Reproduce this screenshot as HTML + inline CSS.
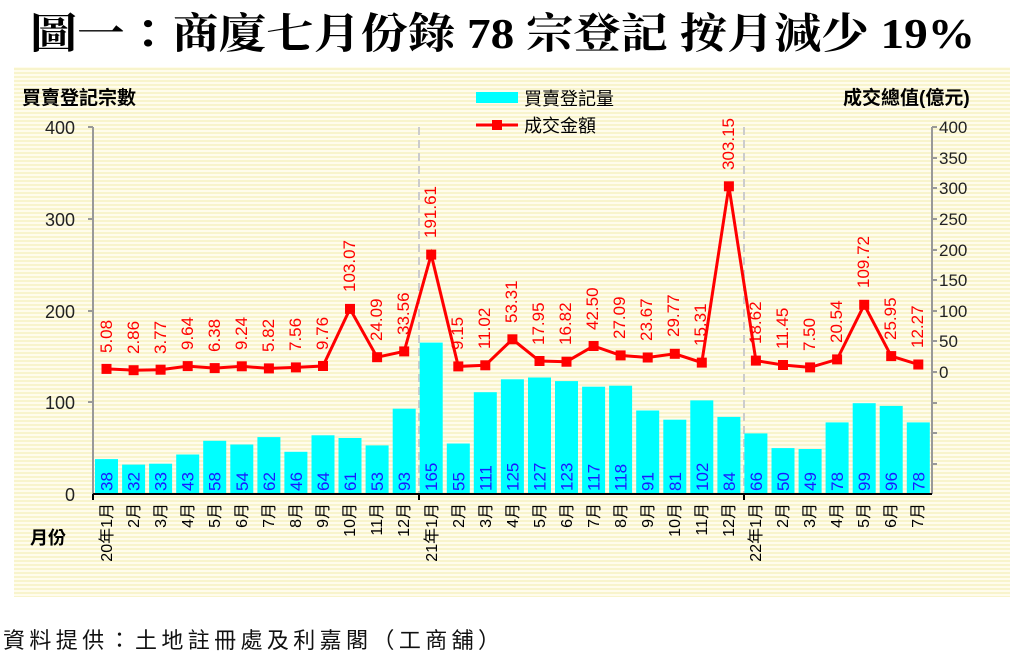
<!DOCTYPE html>
<html><head><meta charset="utf-8"><style>
body{margin:0;background:#fff;width:1024px;height:657px;overflow:hidden}
svg{display:block}
.t{font-family:"Liberation Sans","Noto Sans CJK TC",sans-serif}
.v{font-family:"Liberation Sans",sans-serif;font-size:17px;fill:#f00}
.b{font-family:"Liberation Sans",sans-serif;font-size:17px;fill:#1a1aff}
.x{font-family:"Liberation Sans","Noto Sans CJK TC",sans-serif;font-size:16px;fill:#000}
</style></head><body>
<svg width="1024" height="657" viewBox="0 0 1024 657">
<defs><pattern id="st" width="4" height="4" patternUnits="userSpaceOnUse"><rect width="4" height="4" fill="#fffcec"/><rect width="4" height="2" fill="#f8f4cc"/></pattern></defs>
<text x="30" y="48" font-family="Liberation Serif,'Noto Serif CJK TC','Noto Serif CJK SC',serif" font-weight="bold" font-size="42" textLength="945" lengthAdjust="spacingAndGlyphs">圖一：商廈七月份錄 78 宗登記  按月減少 19%</text>
<rect x="14" y="67" width="996" height="530" fill="url(#st)"/>
<text class="t" x="22" y="104" font-size="19" font-weight="bold">買賣登記宗數</text>
<text class="t" x="843" y="104" font-size="19" font-weight="bold">成交總值(億元)</text>
<rect x="476" y="92" width="42" height="11" fill="#00ffff"/>
<text class="t" x="524" y="105" font-size="18">買賣登記量</text>
<line x1="476" y1="125" x2="518" y2="125" stroke="#f00" stroke-width="3"/><rect x="492" y="120" width="10" height="10" fill="#f00"/>
<text class="t" x="524" y="132" font-size="18">成交金額</text>
<g stroke="#999" stroke-width="2"><line x1="93" y1="127" x2="93" y2="494"/><line x1="932" y1="127" x2="932" y2="494"/>
<line x1="88" y1="127" x2="93" y2="127"/><line x1="88" y1="219" x2="93" y2="219"/><line x1="88" y1="311" x2="93" y2="311"/><line x1="88" y1="402" x2="93" y2="402"/>
<line x1="932" y1="127" x2="937" y2="127"/><line x1="932" y1="158" x2="937" y2="158"/><line x1="932" y1="188" x2="937" y2="188"/><line x1="932" y1="219" x2="937" y2="219"/><line x1="932" y1="250" x2="937" y2="250"/><line x1="932" y1="280" x2="937" y2="280"/><line x1="932" y1="311" x2="937" y2="311"/><line x1="932" y1="341" x2="937" y2="341"/><line x1="932" y1="372" x2="937" y2="372"/><line x1="932" y1="403" x2="937" y2="403"/><line x1="932" y1="433" x2="937" y2="433"/><line x1="932" y1="464" x2="937" y2="464"/></g>
<g stroke="#ccc" stroke-width="2" stroke-dasharray="8,5"><line x1="419" y1="127" x2="419" y2="494"/><line x1="744" y1="127" x2="744" y2="494"/></g>
<g class="t" font-size="18" fill="#222" text-anchor="end"><text x="75" y="134">400</text><text x="75" y="226">300</text><text x="75" y="318">200</text><text x="75" y="409">100</text><text x="75" y="501">0</text></g>
<g class="t" font-size="17" fill="#222"><text x="939" y="133">400</text><text x="939" y="164">350</text><text x="939" y="194">300</text><text x="939" y="225">250</text><text x="939" y="256">200</text><text x="939" y="286">150</text><text x="939" y="317">100</text><text x="939" y="347">50</text><text x="939" y="378">0</text></g>
<g fill="#00ffff">
<rect x="95" y="459.1" width="23" height="34.9"/><rect x="122.1" y="464.6" width="23" height="29.4"/><rect x="149.1" y="463.7" width="23" height="30.3"/><rect x="176.2" y="454.5" width="23" height="39.5"/><rect x="203.2" y="440.8" width="23" height="53.2"/><rect x="230.3" y="444.5" width="23" height="49.5"/><rect x="257.4" y="437.1" width="23" height="56.9"/><rect x="284.4" y="451.8" width="23" height="42.2"/><rect x="311.5" y="435.3" width="23" height="58.7"/><rect x="338.5" y="438" width="23" height="56"/><rect x="365.6" y="445.4" width="23" height="48.6"/><rect x="392.7" y="408.7" width="23" height="85.3"/><rect x="419.7" y="342.6" width="23" height="151.4"/><rect x="446.8" y="443.5" width="23" height="50.5"/><rect x="473.8" y="392.2" width="23" height="101.8"/><rect x="500.9" y="379.3" width="23" height="114.7"/><rect x="528" y="377.5" width="23" height="116.5"/><rect x="555" y="381.1" width="23" height="112.9"/><rect x="582.1" y="386.7" width="23" height="107.3"/><rect x="609.1" y="385.7" width="23" height="108.3"/><rect x="636.2" y="410.5" width="23" height="83.5"/><rect x="663.3" y="419.7" width="23" height="74.3"/><rect x="690.3" y="400.4" width="23" height="93.6"/><rect x="717.4" y="416.9" width="23" height="77.1"/><rect x="744.4" y="433.4" width="23" height="60.6"/><rect x="771.5" y="448.1" width="23" height="45.9"/><rect x="798.6" y="449" width="23" height="45"/><rect x="825.6" y="422.4" width="23" height="71.6"/><rect x="852.7" y="403.2" width="23" height="90.8"/><rect x="879.7" y="405.9" width="23" height="88.1"/><rect x="906.8" y="422.4" width="23" height="71.6"/>
</g>
<line x1="93" y1="494" x2="932" y2="494" stroke="#000" stroke-width="2"/>
<g stroke="#000" stroke-width="2"><line x1="93" y1="494" x2="93" y2="500"/><line x1="419" y1="494" x2="419" y2="500"/><line x1="744" y1="494" x2="744" y2="500"/></g>
<g class="b">
<text transform="translate(112.5,491) rotate(-90)">38</text><text transform="translate(139.6,491) rotate(-90)">32</text><text transform="translate(166.6,491) rotate(-90)">33</text><text transform="translate(193.7,491) rotate(-90)">43</text><text transform="translate(220.7,491) rotate(-90)">58</text><text transform="translate(247.8,491) rotate(-90)">54</text><text transform="translate(274.9,491) rotate(-90)">62</text><text transform="translate(301.9,491) rotate(-90)">46</text><text transform="translate(329,491) rotate(-90)">64</text><text transform="translate(356,491) rotate(-90)">61</text><text transform="translate(383.1,491) rotate(-90)">53</text><text transform="translate(410.2,491) rotate(-90)">93</text><text transform="translate(437.2,491) rotate(-90)">165</text><text transform="translate(464.3,491) rotate(-90)">55</text><text transform="translate(491.3,491) rotate(-90)">111</text><text transform="translate(518.4,491) rotate(-90)">125</text><text transform="translate(545.5,491) rotate(-90)">127</text><text transform="translate(572.5,491) rotate(-90)">123</text><text transform="translate(599.6,491) rotate(-90)">117</text><text transform="translate(626.6,491) rotate(-90)">118</text><text transform="translate(653.7,491) rotate(-90)">91</text><text transform="translate(680.8,491) rotate(-90)">81</text><text transform="translate(707.8,491) rotate(-90)">102</text><text transform="translate(734.9,491) rotate(-90)">84</text><text transform="translate(761.9,491) rotate(-90)">66</text><text transform="translate(789,491) rotate(-90)">50</text><text transform="translate(816.1,491) rotate(-90)">49</text><text transform="translate(843.1,491) rotate(-90)">78</text><text transform="translate(870.2,491) rotate(-90)">99</text><text transform="translate(897.2,491) rotate(-90)">96</text><text transform="translate(924.3,491) rotate(-90)">78</text>
</g>
<polyline fill="none" stroke="#f00" stroke-width="3" points="106.5,368.9 133.6,370.2 160.6,369.7 187.7,366.1 214.7,368.1 241.8,366.3 268.9,368.4 295.9,367.4 323,366 350,308.9 377.1,357.2 404.2,351.4 431.2,254.6 458.3,366.4 485.3,365.3 512.4,339.3 539.5,361 566.5,361.7 593.6,346 620.6,355.4 647.7,357.5 674.8,353.8 701.8,362.6 728.9,186.3 755.9,360.6 783,365 810.1,367.4 837.1,359.4 864.2,304.8 891.2,356.1 918.3,364.5"/>
<g fill="#f00">
<rect x="101.5" y="363.9" width="10" height="10"/><rect x="128.6" y="365.2" width="10" height="10"/><rect x="155.6" y="364.7" width="10" height="10"/><rect x="182.7" y="361.1" width="10" height="10"/><rect x="209.7" y="363.1" width="10" height="10"/><rect x="236.8" y="361.3" width="10" height="10"/><rect x="263.9" y="363.4" width="10" height="10"/><rect x="290.9" y="362.4" width="10" height="10"/><rect x="318" y="361" width="10" height="10"/><rect x="345" y="303.9" width="10" height="10"/><rect x="372.1" y="352.2" width="10" height="10"/><rect x="399.2" y="346.4" width="10" height="10"/><rect x="426.2" y="249.6" width="10" height="10"/><rect x="453.3" y="361.4" width="10" height="10"/><rect x="480.3" y="360.3" width="10" height="10"/><rect x="507.4" y="334.3" width="10" height="10"/><rect x="534.5" y="356" width="10" height="10"/><rect x="561.5" y="356.7" width="10" height="10"/><rect x="588.6" y="341" width="10" height="10"/><rect x="615.6" y="350.4" width="10" height="10"/><rect x="642.7" y="352.5" width="10" height="10"/><rect x="669.8" y="348.8" width="10" height="10"/><rect x="696.8" y="357.6" width="10" height="10"/><rect x="723.9" y="181.3" width="10" height="10"/><rect x="750.9" y="355.6" width="10" height="10"/><rect x="778" y="360" width="10" height="10"/><rect x="805.1" y="362.4" width="10" height="10"/><rect x="832.1" y="354.4" width="10" height="10"/><rect x="859.2" y="299.8" width="10" height="10"/><rect x="886.2" y="351.1" width="10" height="10"/><rect x="913.3" y="359.5" width="10" height="10"/>
</g>
<g class="v">
<text transform="translate(112,353) rotate(-90)">5.08</text><text transform="translate(139,354) rotate(-90)">2.86</text><text transform="translate(166,354) rotate(-90)">3.77</text><text transform="translate(193,350) rotate(-90)">9.64</text><text transform="translate(220,352) rotate(-90)">6.38</text><text transform="translate(247,350) rotate(-90)">9.24</text><text transform="translate(274,352) rotate(-90)">5.82</text><text transform="translate(301,351) rotate(-90)">7.56</text><text transform="translate(328,350) rotate(-90)">9.76</text><text transform="translate(355,292) rotate(-90)">103.07</text><text transform="translate(382,341) rotate(-90)">24.09</text><text transform="translate(409,335) rotate(-90)">33.56</text><text transform="translate(436,238) rotate(-90)">191.61</text><text transform="translate(463,350) rotate(-90)">9.15</text><text transform="translate(490,349) rotate(-90)">11.02</text><text transform="translate(517,323) rotate(-90)">53.31</text><text transform="translate(544,345) rotate(-90)">17.95</text><text transform="translate(571,345) rotate(-90)">16.82</text><text transform="translate(598,330) rotate(-90)">42.50</text><text transform="translate(625,339) rotate(-90)">27.09</text><text transform="translate(652,341) rotate(-90)">23.67</text><text transform="translate(679,337) rotate(-90)">29.77</text><text transform="translate(706,346) rotate(-90)">15.31</text><text transform="translate(734,170) rotate(-90)">303.15</text><text transform="translate(761,344) rotate(-90)">18.62</text><text transform="translate(788,349) rotate(-90)">11.45</text><text transform="translate(815,351) rotate(-90)">7.50</text><text transform="translate(842,343) rotate(-90)">20.54</text><text transform="translate(869,288) rotate(-90)">109.72</text><text transform="translate(896,340) rotate(-90)">25.95</text><text transform="translate(923,348) rotate(-90)">12.27</text>
</g>
<g class="x" text-anchor="end">
<text transform="translate(112,503) rotate(-90)">20年1月</text><text transform="translate(139,503) rotate(-90)">2月</text><text transform="translate(166,503) rotate(-90)">3月</text><text transform="translate(193,503) rotate(-90)">4月</text><text transform="translate(220,503) rotate(-90)">5月</text><text transform="translate(247,503) rotate(-90)">6月</text><text transform="translate(274,503) rotate(-90)">7月</text><text transform="translate(301,503) rotate(-90)">8月</text><text transform="translate(328,503) rotate(-90)">9月</text><text transform="translate(355,503) rotate(-90)">10月</text><text transform="translate(382,503) rotate(-90)">11月</text><text transform="translate(409,503) rotate(-90)">12月</text><text transform="translate(437,503) rotate(-90)">21年1月</text><text transform="translate(464,503) rotate(-90)">2月</text><text transform="translate(491,503) rotate(-90)">3月</text><text transform="translate(518,503) rotate(-90)">4月</text><text transform="translate(545,503) rotate(-90)">5月</text><text transform="translate(572,503) rotate(-90)">6月</text><text transform="translate(599,503) rotate(-90)">7月</text><text transform="translate(626,503) rotate(-90)">8月</text><text transform="translate(653,503) rotate(-90)">9月</text><text transform="translate(680,503) rotate(-90)">10月</text><text transform="translate(707,503) rotate(-90)">11月</text><text transform="translate(734,503) rotate(-90)">12月</text><text transform="translate(761,503) rotate(-90)">22年1月</text><text transform="translate(788,503) rotate(-90)">2月</text><text transform="translate(815,503) rotate(-90)">3月</text><text transform="translate(842,503) rotate(-90)">4月</text><text transform="translate(869,503) rotate(-90)">5月</text><text transform="translate(896,503) rotate(-90)">6月</text><text transform="translate(923,503) rotate(-90)">7月</text>
</g>
<text class="t" x="30" y="544" font-size="18" font-weight="bold">月份</text>
<text class="t" x="3" y="648" font-size="22" fill="#111" textLength="497" lengthAdjust="spacing">資料提供：土地註冊處及利嘉閣（工商舖）</text>
</svg>
</body></html>
